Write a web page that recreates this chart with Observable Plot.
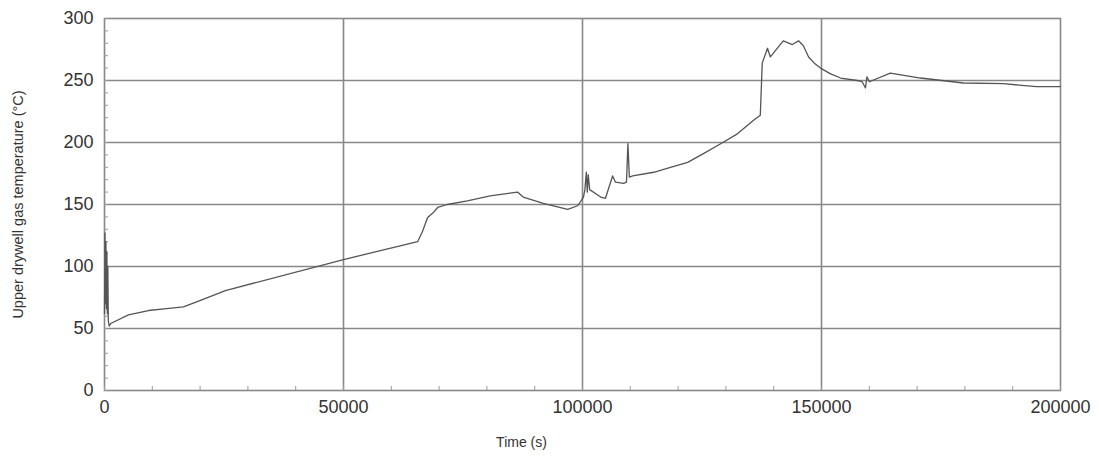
<!DOCTYPE html>
<html>
<head>
<meta charset="utf-8">
<script src="https://cdn.jsdelivr.net/npm/d3@7"></script>
<script src="https://cdn.jsdelivr.net/npm/@observablehq/plot@0.6"></script>
<style>
  html, body { margin: 0; padding: 0; background: #fff; }
  svg { display: block; }
</style>
</head>
<body>
<div id="chart"></div>
<script>
// Time (s)
const times = [0, 100, 200, 300, 400, 500, 600, 700, 800, 1000, 1300, 5000, 9200, 13000, 16500, 19000, 25300,
  50000, 65500, 66500, 67600, 68800, 69700, 71700, 75900, 80700, 86400, 87600, 91800, 96900, 99000, 100200,
  100500, 100800, 101000, 101200, 101500, 103800, 104800, 106300, 106900, 108600, 109200, 109500, 109800,
  110500, 114900, 118400, 122000, 125300, 128900, 132400, 135800, 137200, 137600, 138700, 139300, 142000, 143900, 145200, 146200,
  147300, 148500, 149800, 151800, 154000, 157500, 158500, 159200, 159500, 160000, 164400, 170700, 179700, 188000, 195000, 200000];
// Upper drywell gas temperature (°C)
const temps = [62, 127, 70, 120, 66, 112, 62, 100, 56, 52, 54, 61, 64.5, 66, 67.5, 71, 80.6,
  105.6, 120, 128, 139.5, 143.5, 147.6, 150, 153, 157, 160, 156, 151, 146, 149, 156,
  162, 176, 160, 174, 162, 156, 155, 173, 168, 167, 168, 199, 172,
  173, 176, 180, 184, 191, 199, 207, 218, 222, 264, 276, 269, 282, 279, 282, 278,
  269, 264, 260, 255.5, 252, 250, 249, 244, 253, 249, 256, 252, 248, 247.5, 245, 245];

const xMajor = [0, 50000, 100000, 150000, 200000];
const xMinor = d3.range(0, 200001, 10000);
const yMajor = [0, 50, 100, 150, 200, 250, 300];
const yMinor = d3.range(0, 301, 10);
const xTitle = "Time (s)";
const yTitle = "Upper drywell gas temperature (°C)";

const data = times.map((t, i) => ({t, v: temps[i]}));
const fmt = d3.format("d");

const chart = Plot.plot({
  width: 1099,
  height: 462,
  marginLeft: 104,
  marginRight: 39,
  marginTop: 18,
  marginBottom: 72,
  style: {fontFamily: "'Liberation Sans', Arial, sans-serif", color: "#333", background: "#fff"},
  x: {domain: [0, 200000]},
  y: {domain: [0, 300]},
  marks: [
    Plot.gridX(xMajor.slice(1, -1), {stroke: "#888", strokeOpacity: 1, strokeWidth: 1.6}),
    Plot.gridY(yMajor.slice(1, -1), {stroke: "#888", strokeOpacity: 1, strokeWidth: 1.6}),
    Plot.frame({stroke: "#888", strokeWidth: 1.6}),
    Plot.axisX({ticks: xMinor, tickSize: 4, dy: -4, tickFormat: () => "", label: null, stroke: "#999"}),
    Plot.axisY({ticks: yMinor, tickSize: 4, dx: 4, tickFormat: () => "", label: null, stroke: "#999"}),
    Plot.axisX({ticks: xMajor, tickSize: 0, tickPadding: 10, tickFormat: fmt, label: null, fontSize: 18, fill: "#333"}),
    Plot.axisY({ticks: yMajor, tickSize: 0, tickPadding: 11, tickFormat: fmt, label: null, fontSize: 18, fill: "#333"}),
    Plot.line(data, {x: "t", y: "v", stroke: "#555", strokeWidth: 1.3}),
    Plot.text([yTitle], {frameAnchor: "left", dx: -86, rotate: -90, textAnchor: "middle", fontSize: 14.5, fill: "#333"}),
    Plot.text([xTitle], {frameAnchor: "bottom", dx: -61, dy: 56, fontSize: 14, fill: "#333"})
  ]
});
document.getElementById("chart").appendChild(chart);
</script>
</body>
</html>
